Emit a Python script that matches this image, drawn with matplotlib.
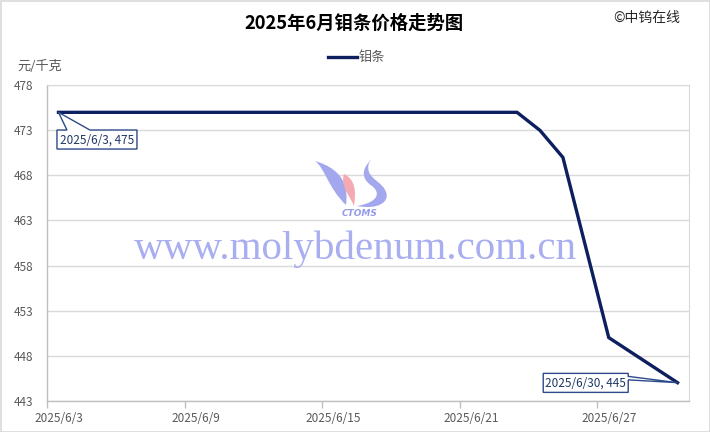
import matplotlib
matplotlib.use("Agg")
import matplotlib.pyplot as plt
import matplotlib.dates as mdates
from matplotlib.path import Path
from matplotlib.patches import PathPatch, Rectangle
from matplotlib.transforms import Affine2D
import pandas as pd

plt.rcParams['font.family'] = ['Noto Sans CJK SC', 'DejaVu Sans']

# ---- data ----
dates = ["2025-06-03", "2025-06-04", "2025-06-05", "2025-06-06", "2025-06-09",
         "2025-06-10", "2025-06-11", "2025-06-12", "2025-06-13", "2025-06-16",
         "2025-06-17", "2025-06-18", "2025-06-19", "2025-06-20", "2025-06-23",
         "2025-06-24", "2025-06-25", "2025-06-26", "2025-06-27", "2025-06-30"]
prices = [475, 475, 475, 475, 475,
          475, 475, 475, 475, 475,
          475, 475, 475, 475, 475,
          473, 470, 460, 450, 445]
tick_dates = ["2025-06-03", "2025-06-09", "2025-06-15", "2025-06-21", "2025-06-27"]
y_ticks = [443, 448, 453, 458, 463, 468, 473, 478]
series_name = "钼条"
title = "2025年6月钼条价格走势图"
unit = "元/千克"
credit = "©中钨在线"

x = pd.to_datetime(dates)
W, H = 710, 432
NAVY = "#0d1f5e"
GRAY_TXT = "#595959"

fig = plt.figure(figsize=(W / 100, H / 100), dpi=100)
fig.patch.set_facecolor("white")
ax = fig.add_axes([47 / W, 1 - 400.7 / H, 642 / W, 315.4 / H])

half = pd.Timedelta(hours=12)
ax.set_xlim(x[0] - half, x[-1] + half)
ax.set_ylim(y_ticks[0], y_ticks[-1])

# grid
ax.set_yticks(y_ticks)
ax.yaxis.grid(True, color="#d9d9d9", lw=1.0)
ax.set_axisbelow(True)
ax.tick_params(axis="y", length=0, labelsize=8.5, labelcolor=GRAY_TXT, pad=10)

# x ticks: labels at dates, tick marks at day boundaries
td = pd.to_datetime(tick_dates)
ax.set_xticks(td)
ax.set_xticklabels([f"{d.year}/{d.month}/{d.day}" for d in td])
ax.set_xticks([d - half for d in td], minor=True)
ax.tick_params(axis="x", which="major", length=0, labelsize=8.5, labelcolor=GRAY_TXT, pad=8)
ax.tick_params(axis="x", which="minor", length=5, color="#bfbfbf", width=1, direction="out")

for s in ["left", "bottom"]:
    ax.spines[s].set_color("#bfbfbf")
    ax.spines[s].set_linewidth(1.0)
ax.spines["right"].set_color("#d9d9d9")
ax.spines["top"].set_color("#d9d9d9")

# pixel transform (image coords, y down)
pix = Affine2D().scale(1 / W, -1 / H).translate(0, 1) + fig.transFigure

# watermark
ax.text(355, 259, "www.molybdenum.com.cn", transform=pix, family="Liberation Serif",
        fontsize=29.5, color="#a9aef0", ha="center", va="baseline", zorder=1.5)

# logo
def blob(pts, color):
    codes = [Path.MOVETO] + [Path.CURVE4] * (len(pts) - 2) + [Path.CLOSEPOLY]
    p = PathPatch(Path(pts, codes), transform=pix, fc=color, ec="none",
                  zorder=1.5, clip_on=False)
    ax.add_patch(p)

blob([(315, 161), (325, 168), (328, 188), (346, 205),
      (348, 190), (346, 170), (315, 161), (315, 161)], "#a3a8ee")
blob([(344, 174), (356, 180), (356, 192), (354, 206),
      (350, 196), (340, 186), (344, 174), (344, 174)], "#f5a9b0")
blob([(372, 159), (362, 168), (360, 178), (372, 186),
      (380, 192), (380, 202), (357, 206),
      (378, 210), (390, 202), (386, 192),
      (383, 183), (372, 180), (369, 172),
      (367, 166), (369, 162), (372, 159), (372, 159)], "#a3a8ee")
ax.text(360, 213.5, "CTOMS", transform=pix, family="DejaVu Sans", fontsize=6.5,
        style="italic", weight="bold", color="#949ae8", ha="center", va="center",
        zorder=1.5)

# line
ax.plot(x, prices, color=NAVY, lw=2.4, zorder=3, solid_joinstyle="miter")

# callouts
fig.canvas.draw()

def callout(xv, yv, verts, text_off, label):
    px, py = ax.transData.transform((mdates.date2num(xv), yv))
    codes = [Path.MOVETO] + [Path.LINETO] * (len(verts) - 1) + [Path.CLOSEPOLY]
    path = Path(list(verts) + [verts[0]], codes)
    tr = Affine2D().translate(px, py)
    ax.add_patch(PathPatch(path, transform=tr, fc="white", ec="#2f4a8a", lw=1.0,
                           zorder=4, clip_on=False))
    ax.text(px + text_off[0], py + text_off[1], label, transform=None,
            fontsize=8.5, color="#1f3864", ha="center", va="center", zorder=5)

# first point: box below right
callout(x[0], prices[0],
        [(-1.5, -17.7), (8.5, -17.7), (0, 0), (31.5, -17.7), (78.5, -17.7),
         (78.5, -36.7), (-1.5, -36.7)],
        (38.5, -27.5), f"{x[0].year}/{x[0].month}/{x[0].day}, {prices[0]}")
# last point: box to the left
callout(x[-1], prices[-1],
        [(-134.3, 9.3), (-49.3, 9.3), (-49.3, 6.3), (0, 0), (-49.3, 2.8),
         (-49.3, -9.7), (-134.3, -9.7)],
        (-91.8, -0.3), f"{x[-1].year}/{x[-1].month}/{x[-1].day}, {prices[-1]}")

# titles / legend / labels
fig.text(354 / W, 1 - 23 / H, title, ha="center", va="center", fontsize=13.2,
         weight="bold", color="black")
fig.text(647 / W, 1 - 18 / H, credit, ha="center", va="center", fontsize=10,
         color="#262626")
fig.add_artist(plt.Line2D([328 / W, 357 / W], [1 - 57 / H, 1 - 57 / H],
                          transform=fig.transFigure, color=NAVY, lw=2.4))
fig.text(359 / W, 1 - 57 / H, series_name, ha="left", va="center", fontsize=9.5,
         color=GRAY_TXT)
fig.text(17 / W, 1 - 67 / H, unit, ha="left", va="center", fontsize=9.5,
         color=GRAY_TXT)

fig.patches.append(Rectangle((0.5 / W, 0.5 / H), 1 - 1 / W, 1 - 1 / H,
                             transform=fig.transFigure, fill=False,
                             ec="#d9d9d9", lw=1.2))

fig.savefig("out.png", dpi=100)
